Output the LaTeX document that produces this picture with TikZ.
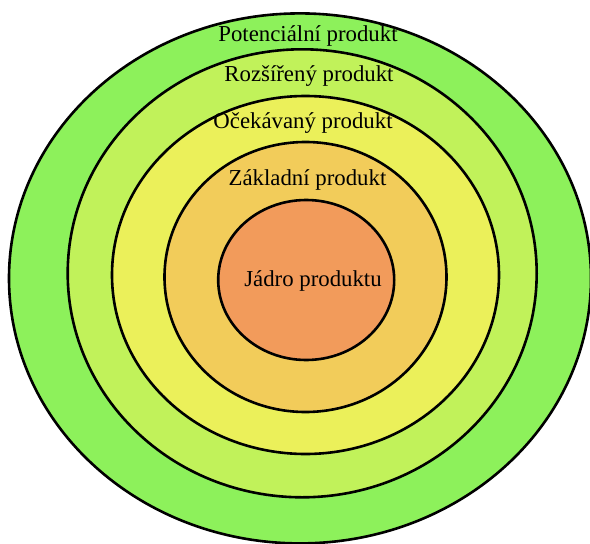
\documentclass[tikz,border=0pt]{standalone}
\usepackage{fontspec}
\setmainfont{Liberation Serif}

\definecolor{potencialni}{HTML}{8DF15B}
\definecolor{rozsireny}{HTML}{C1F25A}
\definecolor{ocekavany}{HTML}{EBF05A}
\definecolor{zakladni}{HTML}{F2CC5A}
\definecolor{jadro}{HTML}{F29B5B}

\begin{document}
\begin{tikzpicture}[x=1pt, y=-1pt,
  ringline/.style={draw=black, line width=2.6pt},
  ringtext/.style={font=\fontsize{22.8}{27}\selectfont, anchor=base, inner sep=0pt}]

  \useasboundingbox (0,0) rectangle (590,544);

  % Outer ring
  \filldraw[ringline, fill=potencialni] (300,278.4) ellipse (291 and 265);

  % Second ring
  \filldraw[ringline, fill=rozsireny] (302.2,273.3) ellipse (234.5 and 224);

  % Third ring
  \filldraw[ringline, fill=ocekavany] (305.5,275) ellipse (193.5 and 179);

  % Fourth ring
  \filldraw[ringline, fill=zakladni] (305.5,277) ellipse (141 and 135);

  % Core
  \filldraw[ringline, fill=jadro] (306.2,280) ellipse (88 and 80);

  % Ring names
  \node[ringtext] (potencialni) at (308,41.7) {Potenciální produkt};
  \node[ringtext] (rozsireny) at (309,81.7) {Rozšířený produkt};
  \node[ringtext] (ocekavany) at (303,128) {Očekávaný produkt};
  \node[ringtext] (zakladni) at (307.5,185) {Základní produkt};
  \node[ringtext] (jadro) at (313,286) {Jádro produktu};

\end{tikzpicture}
\end{document}
